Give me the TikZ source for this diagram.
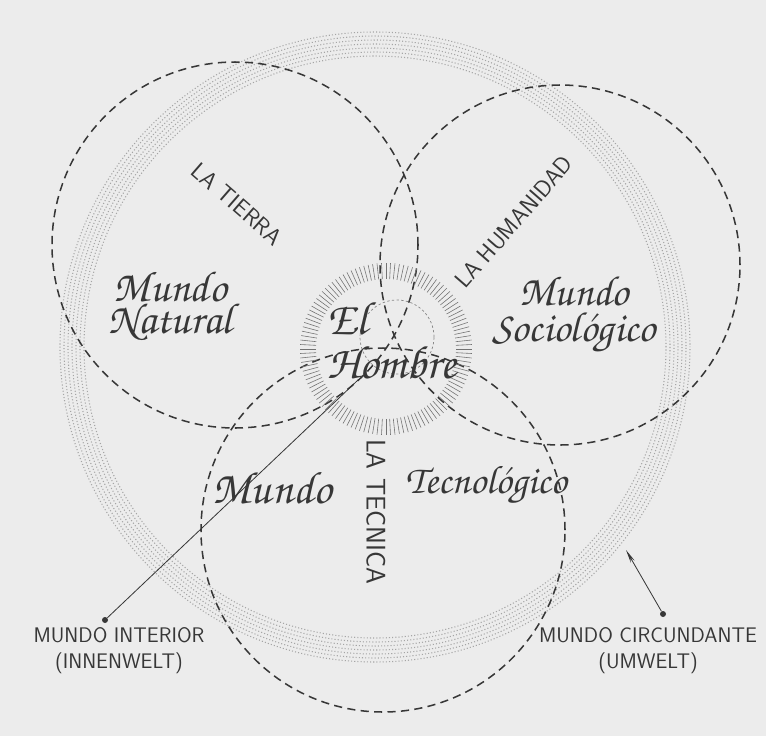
\documentclass[tikz,border=0pt]{standalone}
\usepackage[T1,TU]{fontenc}
\usetikzlibrary{arrows.meta}

\definecolor{paper}{RGB}{236,236,236}
\definecolor{ink}{RGB}{55,55,55}
\newcommand{\handscript}{\fontencoding{T1}\fontfamily{pzc}\fontseries{mb}\fontshape{it}\selectfont}

\begin{document}
\begin{tikzpicture}[x=0.3mm, y=0.3mm,
        world/.style={draw=ink, line width=1.3pt, dash pattern=on 7pt off 4.5pt},
        stipple/.style={draw=ink!45, line width=0.9pt, dash pattern=on 0.9pt off 1.8pt},
        hatch/.style={draw=ink!70, line width=0.5pt},
        realm/.style={align=center, text=ink, inner sep=0pt},
        caption/.style={font=\sffamily\fontsize{20}{22}\selectfont, text=ink, inner sep=0pt},
        note/.style={align=center, font=\sffamily\fontsize{18}{22}\selectfont, text=ink, inner sep=0pt},
        pindot/.style={circle, fill=ink, inner sep=0pt, minimum size=1.8mm},
        pointer/.style={draw=ink, line width=0.7pt}
      ]

      \fill[paper] (0,0) rectangle (766,-736);
      \useasboundingbox (0,0) rectangle (766,-736);

      \coordinate (umC)   at (375,-347);
      \coordinate (natC)  at (235,-245);
      \coordinate (socC)  at (560,-265);
      \coordinate (tecC)  at (383,-530);
      \coordinate (manC)  at (386,-349);
      \coordinate (innerC) at (397,-337);

      % Umwelt band
      \foreach \r/\ph in {291/0,295/0.8,299/1.6,303/0.4,307/1.2,311/2,315/0.6}
        \draw[stipple, dash phase=\ph pt] (umC) circle[radius=\r];

      \draw[world] (natC) circle[radius=183];
      \draw[world] (socC) circle[radius=180];
      \draw[world] (tecC) circle[radius=182];

      % El Hombre
      \foreach \a in {0,3,...,357}
        \draw[hatch] (manC) ++(\a:70) -- ++(\a:16);
      \draw[ink!60, line width=0.6pt, dash pattern=on 2pt off 2pt] (innerC) circle[radius=37];

      \node[realm, font=\handscript\fontsize{37}{26}\selectfont] (natural) at (170,-306) {Mundo\\Natural};
      \node[realm, font=\handscript\fontsize{36}{31}\selectfont] (socio) at (574,-315) {Mundo\\Sociológico};
      \node[realm, font=\handscript\fontsize{39}{30}\selectfont] (mundo) at (272,-488) {Mundo};
      \node[realm, font=\handscript\fontsize{34}{30}\selectfont] (tecno) at (486,-485) {Tecnológico};
      \node[realm, align=left, font=\handscript\fontsize{40}{38}\selectfont] (hombre) at (392,-340) {El\\Hombre};

      \node[caption, rotate=-41] (tierra) at (237,-204) {LA TIERRA};
      \node[caption, rotate=49] (humanidad) at (514,-222) {LA HUMANIDAD};
      \node[caption, rotate=-90, font=\sffamily\fontsize{23}{25}\selectfont] (tecnica) at (376,-512) {LA TECNICA};

      \node[note] (interior) at (119,-651) {MUNDO INTERIOR\\(INNENWELT)};
      \node[note] (circundante) at (648,-651) {MUNDO CIRCUNDANTE\\(UMWELT)};

      \node[pindot] (indot) at (105,-620) {};
      \node[pindot] (umdot) at (663,-614) {};
      \coordinate (intip) at (358,-380);
      \coordinate (umtip) at (626,-550);
      \draw[pointer] (indot) -- (intip);
      \draw[pointer, -{Stealth[length=4mm, width=1.3mm]}] (umdot) -- (umtip);

    \end{tikzpicture}
\end{document}
